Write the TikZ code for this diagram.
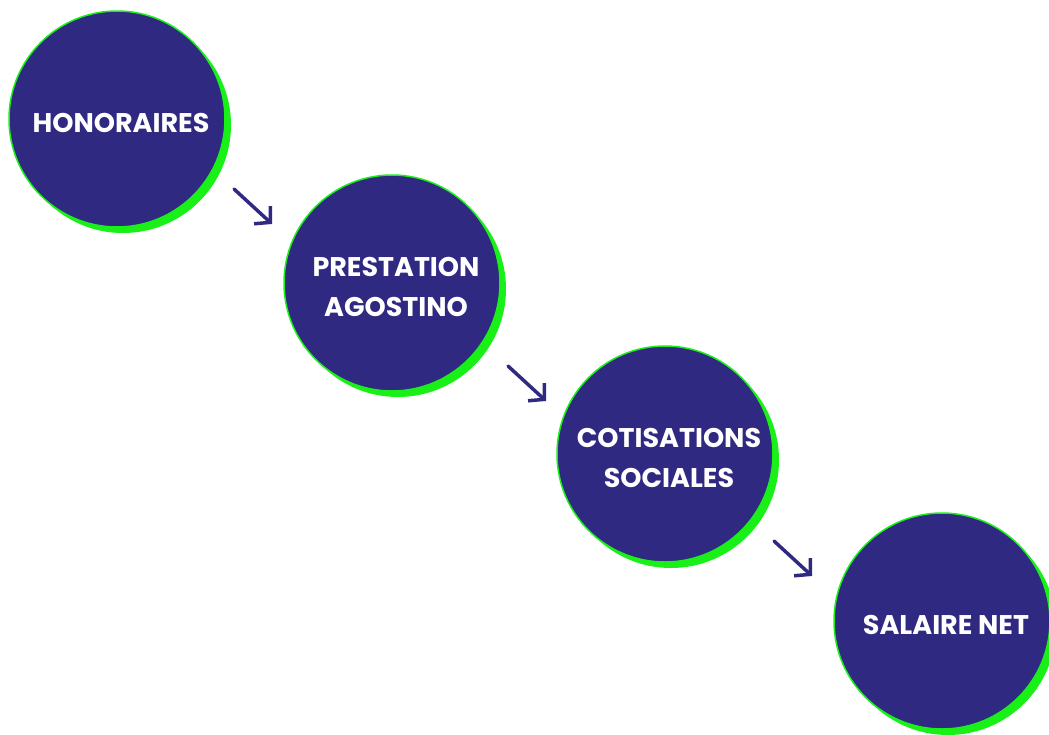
\documentclass[tikz,border=0pt]{standalone}
\usepackage{fontspec}
\setmainfont{Poppins}
\usetikzlibrary{arrows.meta,shadows}
\definecolor{marine}{RGB}{47,41,130}
\definecolor{vert}{RGB}{24,240,24}
\begin{document}
\begin{tikzpicture}[x=1pt,y=-1pt,line join=round,line cap=round,>={Straight Barb[length=11pt,width=24pt]}]
	\tikzset{etiq/.style={text=white,align=center,font=\bfseries\fontsize{27}{40}\selectfont,xshift=4pt,yshift=-4pt},
		bulle/.style={circle,minimum size=216pt,inner sep=0pt,fill=marine,draw=vert,line width=1.5pt,
			drop shadow={shadow xshift=6pt,shadow yshift=-6pt,fill=vert,opacity=1},
			label={[etiq]center:{#1}}}}
	\useasboundingbox (0,0) rectangle (1049,734);
	\clip (0,0) rectangle (1049,734);
	\node[bulle={HONORAIRES}] (hono) at (117,119) {};
	\node[bulle={PRESTATION\\AGOSTINO}] (presta) at (392,283) {};
	\node[bulle={COTISATIONS\\SOCIALES}] (cotis) at (665,454) {};
	\node[bulle={SALAIRE NET}] (net) at (942,621) {};
	% petites fleches entre les bulles
	\foreach \i/\x/\y in {1/234/189,2/508/366,3/774/541}
	{
		\coordinate (d\i) at (\x,\y);
		\coordinate (f\i) at (\x+38,\y+35);
		\draw[->,marine,line width=3.5pt] (d\i)--(f\i);
	}
\end{tikzpicture}
\end{document}
